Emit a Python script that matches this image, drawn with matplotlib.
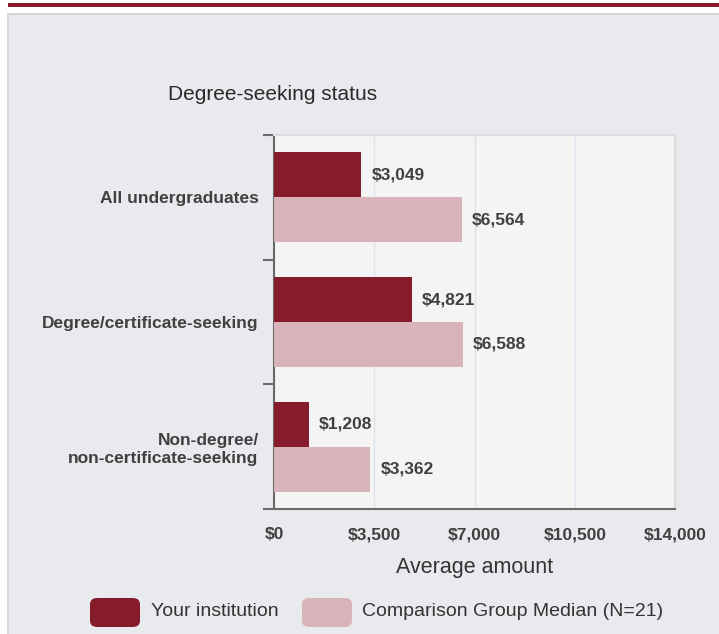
import matplotlib
matplotlib.use("Agg")
import matplotlib.pyplot as plt
from matplotlib.patches import Rectangle, FancyBboxPatch
import numpy as np

categories = ["All undergraduates", "Degree/certificate-seeking", "Non-degree/\nnon-certificate-seeking"]
your_inst = [3049, 4821, 1208]
comparison = [6564, 6588, 3362]
xticks = [0, 3500, 7000, 10500, 14000]
xtick_labels = ["$0", "$3,500", "$7,000", "$10,500", "$14,000"]
series_names = ["Your institution", "Comparison Group Median (N=21)"]

DARK = "#861b2c"
LIGHT = "#d8b3b9"
TXT = "#404040"

plt.rcParams['font.family'] = ['Liberation Sans', 'DejaVu Sans']

W, H = 719, 634
fig = plt.figure(figsize=(W / 100, H / 100), dpi=100)
fig.patch.set_facecolor("white")

def fx(px):
    return px / W

def fy(py):
    return 1 - py / H

# top stripe
fig.patches.append(Rectangle((fx(8), fy(6.5)), fx(711), 3.5 / H, transform=fig.transFigure,
                             facecolor=DARK, edgecolor="none", zorder=-2))
# panel
fig.patches.append(Rectangle((fx(8), fy(640)), fx(720), 626 / H, transform=fig.transFigure,
                             facecolor="#e9eaee", edgecolor="#d0d0d0", linewidth=1.2, zorder=-2))

ax_l, ax_r, ax_t, ax_b = 274, 675, 135, 509
ax = fig.add_axes([fx(ax_l), fy(ax_b), (ax_r - ax_l) / W, (ax_b - ax_t) / H])
ax.set_zorder(2)
ax.set_facecolor("#f4f4f4")

FS = 12.5
n = len(categories)
pos = np.arange(n)
h = 0.36
ax.barh(pos - h / 2, your_inst, height=h, color=DARK, zorder=3)
ax.barh(pos + h / 2, comparison, height=h, color=LIGHT, zorder=3)

for p, v in zip(pos, your_inst):
    ax.text(v + 350, p - h / 2, f"${v:,}", va="center", ha="left", fontsize=FS,
            fontweight="bold", color=TXT)
for p, v in zip(pos, comparison):
    ax.text(v + 350, p + h / 2, f"${v:,}", va="center", ha="left", fontsize=FS,
            fontweight="bold", color=TXT)

ax.set_xlim(0, 14000)
ax.set_ylim(n - 0.5, -0.5)
ax.set_xticks(xticks)
ax.set_xticklabels(xtick_labels, fontsize=FS, fontweight="bold", color=TXT)
ax.set_yticks(pos)
ax.set_yticklabels(categories, fontsize=FS, fontweight="bold", color=TXT, ha="right")
ax.tick_params(axis="y", length=0, pad=11)
ax.tick_params(axis="x", length=0, pad=13)
ax.set_yticks(np.arange(n + 1) - 0.5, minor=True)
ax.tick_params(axis="y", which="minor", length=8, width=1.5, color="#6a6a6a")

ax.grid(axis="x", color="#dde3ee", linewidth=1, zorder=0)
ax.set_axisbelow(True)
for s in ["top", "right"]:
    ax.spines[s].set_color("#dcdcdc")
    ax.spines[s].set_linewidth(1.5)
ax.spines["left"].set_color("#6a6a6a")
ax.spines["left"].set_linewidth(1.5)
ax.spines["bottom"].set_color("#6a6a6a")
ax.spines["bottom"].set_linewidth(1.5)

ax.set_xlabel("Average amount", fontsize=15.5, color="#333333", labelpad=11)

fig.text(fx(168), fy(94), "Degree-seeking status", fontsize=15, color="#2a2a2a",
         ha="left", va="center")

# legend
for (x0, col, name, tx) in [(90, DARK, series_names[0], 151), (302, LIGHT, series_names[1], 362)]:
    fig.patches.append(FancyBboxPatch((fx(x0), fy(627)), fx(50), 29 / H,
                                      boxstyle="round,pad=0,rounding_size=0.01",
                                      transform=fig.transFigure, facecolor=col,
                                      edgecolor="none", zorder=2))
    fig.text(fx(tx), fy(612), name, fontsize=14, color="#333333", ha="left", va="center")

fig.savefig("out.png", dpi=100)
